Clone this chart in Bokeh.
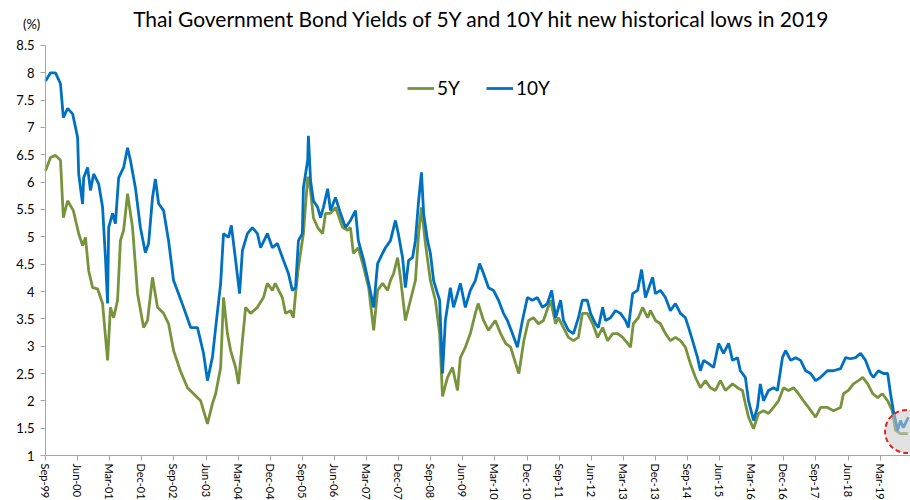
from bokeh.plotting import figure
from bokeh.models import (FixedTicker, NumeralTickFormatter, Legend, LegendItem,
                          Label, Range1d)
from bokeh.embed import file_html
from bokeh.resources import INLINE

# x values are months since Sep-1999
months_10y = [0.0, 1.4, 2.8, 4.2, 5.0, 6.2, 7.6, 9.0, 9.3, 10.4, 10.7, 11.8, 12.6, 13.5,
              14.9, 16.0, 16.8, 17.4, 17.7, 18.8, 19.6, 20.5, 21.9, 23.0, 23.8, 25.2,
              26.6, 28.0, 28.9, 30.0, 30.8, 31.7, 33.1, 34.5, 35.9, 37.3, 38.7, 40.7,
              42.6, 44.3, 45.4, 46.8, 47.7, 49.1, 49.9, 51.3, 52.1, 53.3, 54.4, 55.2,
              56.6, 58.0, 59.4, 60.3, 62.2, 63.6, 65.0, 66.7, 68.1, 69.2, 70.1, 70.9,
              72.0, 72.3, 73.5, 73.7, 74.3, 75.1, 76.3, 77.1, 77.9, 79.1, 79.9, 81.3,
              82.7, 84.1, 85.5, 86.9, 87.7, 89.2, 90.6, 92.0, 93.1, 94.5, 95.3, 96.7,
              98.1, 98.9, 100.1, 100.9, 101.8, 102.9, 103.7, 104.6, 105.4, 106.0, 107.1,
              107.9, 108.8, 109.9, 110.5, 111.3, 112.1, 113.5, 114.4, 115.5, 116.3,
              117.7, 119.1, 120.5, 121.7, 122.8, 124.2, 125.6, 127.0, 128.4, 129.5,
              130.9, 132.3, 133.7, 135.1, 136.5, 137.9, 139.3, 140.7, 141.9, 143.0,
              144.4, 145.2, 146.6, 148.0, 149.4, 150.5, 151.9, 152.8, 154.2, 155.0,
              156.2, 157.0, 158.4, 159.8, 161.2, 162.6, 163.4, 164.6, 166.0, 167.1,
              168.2, 169.6, 170.2, 171.0, 172.4, 173.8, 175.2, 176.6, 178.0, 179.4,
              180.3, 181.4, 182.8, 183.6, 184.5, 185.9, 187.3, 188.7, 190.1, 191.5,
              192.6, 194.0, 194.8, 196.2, 197.1, 198.5, 199.6, 200.4, 201.3, 202.7,
              204.1, 205.2, 206.6, 207.5, 208.9, 210.3, 211.7, 213.1, 214.5, 215.9,
              217.3, 219.2, 220.9, 222.9, 224.3, 225.7, 227.1, 228.5, 229.9, 231.3,
              232.1, 233.5, 234.9, 236.1, 236.9, 237.7, 238.9, 239.7, 240.5, 241.9]
yield_10y = [7.85, 8.0, 8.0, 7.8, 7.18, 7.35, 7.25, 6.82, 6.15, 5.6, 6.08, 6.27, 5.85, 6.15,
             5.97, 5.54, 4.62, 3.78, 5.17, 5.43, 5.24, 6.08, 6.27, 6.63, 6.4, 5.9,
             5.17, 4.71, 4.88, 5.72, 6.06, 5.61, 5.48, 4.93, 4.2, 3.96, 3.71, 3.34,
             3.34, 2.87, 2.37, 2.8, 3.34, 4.15, 5.06, 4.99, 5.21, 4.57, 3.96, 4.75,
             5.06, 5.17, 5.06, 4.8, 5.06, 4.8, 4.88, 4.57, 4.33, 4.02, 4.07, 4.93,
             5.06, 5.9, 6.4, 6.85, 6.03, 5.66, 5.54, 5.35, 5.54, 5.88, 5.48, 5.72,
             5.43, 5.17, 5.3, 5.48, 4.93, 4.57, 4.15, 3.71, 4.51, 4.7, 4.8, 4.93,
             5.3, 5.06, 4.62, 4.07, 4.57, 4.62, 4.93, 5.66, 6.18, 5.43, 4.93,
             4.7, 4.2, 3.96, 3.84, 2.5, 3.47, 4.07, 3.71, 3.96, 4.15,
             3.71, 4.02, 4.2, 4.51, 4.33, 4.07, 4.02, 3.84, 3.6, 3.47,
             3.23, 2.98, 3.47, 3.89, 3.84, 3.89, 3.71, 3.78, 4.02, 3.52,
             3.84, 3.47, 3.29, 3.23, 3.52, 3.84, 3.84, 3.6, 3.41, 3.34,
             3.71, 3.47, 3.52, 3.65, 3.6, 3.47, 3.34, 3.96, 4.02, 4.4,
             3.89, 4.15, 4.26, 3.96, 4.02, 3.89, 3.65, 3.78, 3.6, 3.52,
             3.34, 3.1, 2.79, 2.55, 2.74, 2.68, 2.61, 3.05, 2.87, 3.05,
             2.74, 2.79, 2.55, 2.43, 2.0, 1.64, 1.88, 2.31, 2.0, 2.19,
             2.24, 2.19, 2.79, 2.92, 2.74, 2.79, 2.74, 2.55, 2.5, 2.37,
             2.43, 2.55, 2.55, 2.59, 2.79, 2.77, 2.79, 2.87, 2.74, 2.5,
             2.43, 2.55, 2.5, 2.5, 2.13, 1.82, 1.46, 1.64, 1.51, 1.7]

months_5y = [0.0, 1.4, 2.8, 4.2, 5.0, 6.2, 7.8, 9.3, 10.4, 11.2, 12.1, 13.2, 14.6, 16.0,
             17.4, 18.2, 19.1, 20.2, 21.0, 21.9, 23.0, 24.4, 25.8, 27.5, 28.6, 30.0,
             31.4, 33.1, 34.5, 35.9, 37.8, 39.8, 41.5, 43.5, 45.4, 46.8, 47.7, 49.1,
             49.9, 51.0, 51.9, 53.3, 54.1, 55.2, 56.1, 57.5, 59.4, 61.1, 62.2, 63.6,
             64.4, 66.4, 67.3, 68.7, 69.5, 70.1, 70.9, 72.3, 73.5, 74.3, 75.1, 76.3,
             77.7, 78.5, 79.9, 81.3, 83.3, 84.7, 85.5, 86.3, 87.7, 89.2, 90.6, 92.0,
             93.1, 94.5, 95.9, 96.7, 97.6, 98.7, 99.5, 100.9, 102.3, 103.7, 104.6,
             105.4, 106.5, 107.9, 109.3, 110.5, 111.3, 112.7, 114.1, 115.5, 116.3,
             117.7, 119.1, 120.5, 121.3, 122.8, 124.2, 126.1, 127.6, 129.0, 130.4,
             131.8, 132.7, 134.1, 135.4, 136.8, 138.2, 139.6, 141.6, 143.0, 143.8,
             145.2, 146.6, 148.0, 149.4, 150.5, 151.9, 153.4, 154.8, 156.2, 157.6,
             159.0, 160.4, 161.8, 163.2, 164.0, 164.8, 166.2, 167.4, 168.8, 169.6,
             171.0, 172.4, 173.8, 175.2, 176.6, 178.0, 179.4, 180.8, 182.2, 183.6,
             185.0, 186.4, 187.8, 189.2, 190.6, 192.6, 194.0, 195.4, 196.2, 197.1,
             198.5, 199.9, 201.3, 202.7, 204.1, 205.5, 206.9, 208.3, 209.7, 211.1,
             212.5, 213.9, 215.9, 217.3, 219.2, 220.9, 222.9, 223.7, 225.1, 226.5,
             227.9, 229.1, 230.5, 231.9, 233.3, 234.6, 236.1, 237.4, 238.3, 239.7, 241.7]
yield_5y = [6.21, 6.45, 6.49, 6.4, 5.35, 5.66, 5.48, 5.06, 4.84, 4.99, 4.38, 4.07, 4.05, 3.78,
            2.74, 3.71, 3.52, 3.84, 4.93, 5.12, 5.79, 5.17, 3.96, 3.34, 3.47, 4.26,
            3.71, 3.6, 3.41, 2.92, 2.55, 2.24, 2.13, 2.0, 1.58, 1.95, 2.13, 2.61,
            3.89, 3.23, 2.92, 2.61, 2.31, 3.1, 3.71, 3.6, 3.71, 3.89, 4.15, 4.02,
            4.15, 3.89, 3.6, 3.65, 3.52, 3.96, 4.44, 5.06, 6.1, 5.85, 5.35, 5.17,
            5.06, 5.43, 5.43, 5.54, 5.17, 5.12, 5.17, 4.7, 4.8, 4.44, 4.07, 3.29,
            4.02, 4.15, 4.02, 4.2, 4.33, 4.62, 4.26, 3.47, 3.84, 4.2, 5.06,
            5.54, 4.88, 4.2, 3.84, 3.23, 2.08, 2.43, 2.61, 2.19, 2.79,
            2.98, 3.23, 3.6, 3.78, 3.47, 3.29, 3.47, 3.23, 3.05, 2.98,
            2.68, 2.5, 3.1, 3.47, 3.52, 3.41, 3.47, 3.84, 3.41, 3.52,
            3.34, 3.16, 3.1, 3.16, 3.6, 3.6, 3.41, 3.16, 3.34, 3.1,
            3.23, 3.23, 3.16, 3.05, 2.98, 3.41, 3.52, 3.71, 3.52, 3.65,
            3.47, 3.41, 3.23, 3.1, 3.16, 3.1, 2.98, 2.68, 2.43, 2.24,
            2.37, 2.24, 2.19, 2.37, 2.19, 2.31, 2.24, 2.19, 1.95, 1.7,
            1.49, 1.77, 1.82, 1.77, 1.88, 2.0, 2.24, 2.19, 2.24, 2.13,
            2.0, 1.88, 1.7, 1.88, 1.88, 1.82, 1.88, 2.13, 2.19, 2.31,
            2.37, 2.43, 2.31, 2.13, 2.06, 2.13, 2.0, 1.82, 1.46, 1.4, 1.4]

tick_months = [0, 9, 18, 27, 36, 45, 54, 63, 72, 81, 90, 99, 108, 117, 126, 135, 144,
               153, 162, 171, 180, 189, 198, 207, 216, 225, 234, 243]
tick_labels = ["Sep-99", "Jun-00", "Mar-01", "Dec-01", "Sep-02", "Jun-03", "Mar-04",
               "Dec-04", "Sep-05", "Jun-06", "Mar-07", "Dec-07", "Sep-08", "Jun-09",
               "Mar-10", "Dec-10", "Sep-11", "Jun-12", "Mar-13", "Dec-13", "Sep-14",
               "Jun-15", "Mar-16", "Dec-16", "Sep-17", "Jun-18", "Mar-19", "Dec-19"]
y_ticks = [1, 1.5, 2, 2.5, 3, 3.5, 4, 4.5, 5, 5.5, 6, 6.5, 7, 7.5, 8, 8.5]

highlight_month = [241.4]
highlight_yield = [1.44]

TITLE = "Thai Government Bond Yields of 5Y and 10Y hit new historical lows in 2019"
FONT = "Lato"
AXIS_GREY = "#A6A6A6"

# The frame fills the whole canvas; the axes are pinned at Sep-99 / 1%
p = figure(width=910, height=500, output_backend="svg", toolbar_location=None,
           x_range=Range1d(-12.62, 242.5), y_range=Range1d(0.177, 9.323),
           min_border=0, outline_line_color=None)

p.xgrid.visible = False
p.ygrid.visible = False

r5 = p.line(months_5y, yield_5y, line_color="#77933C", line_width=2.8)
r10 = p.line(months_10y, yield_10y, line_color="#0070C0", line_width=2.8)

p.scatter(highlight_month, highlight_yield, marker="circle", size=43,
          fill_color="#C8C8C8", fill_alpha=0.55, line_color="#E02020",
          line_width=2, line_dash="5 3")

legend = Legend(items=[LegendItem(label="5Y", renderers=[r5]),
                       LegendItem(label="10Y", renderers=[r10])],
                orientation="horizontal", location=(407, 401),
                label_text_font=FONT, label_text_font_size="19px",
                label_text_color="#000000", glyph_width=27, glyph_height=20,
                label_height=20, label_standoff=3, spacing=26, padding=0,
                margin=0, border_line_alpha=0, background_fill_alpha=0)
p.add_layout(legend)

p.add_layout(Label(x=122.5, y=8.99, text=TITLE, text_font=FONT,
                   text_font_size="21px", text_align="center",
                   text_baseline="middle", text_color="#000000"))
p.add_layout(Label(x=-3.9, y=8.9, text="(%)", text_font=FONT,
                   text_font_size="13px", text_align="center",
                   text_baseline="middle", text_color="#000000"))

xa = p.xaxis[0]
xa.fixed_location = 1
xa.bounds = (0, 242.5)
xa.ticker = FixedTicker(ticks=tick_months)
xa.major_label_overrides = {m: lab for m, lab in zip(tick_months, tick_labels)}
xa.major_label_orientation = "vertical"
xa.major_label_text_font = FONT
xa.major_label_text_font_size = "11px"
xa.major_label_text_color = "#000000"
xa.major_label_standoff = 3
xa.axis_line_color = AXIS_GREY
xa.major_tick_line_color = AXIS_GREY
xa.major_tick_out = 5
xa.major_tick_in = 0
xa.minor_tick_line_color = None

ya = p.yaxis[0]
ya.fixed_location = 0
ya.bounds = (1, 8.5)
ya.ticker = FixedTicker(ticks=y_ticks)
ya.formatter = NumeralTickFormatter(format="0.[0]")
ya.major_label_text_font = FONT
ya.major_label_text_font_size = "13px"
ya.major_label_text_color = "#000000"
ya.major_label_standoff = 6
ya.axis_line_color = AXIS_GREY
ya.major_tick_line_color = AXIS_GREY
ya.major_tick_out = 5
ya.major_tick_in = 0
ya.minor_tick_line_color = None

open("out.html", "w").write(file_html(p, INLINE))
